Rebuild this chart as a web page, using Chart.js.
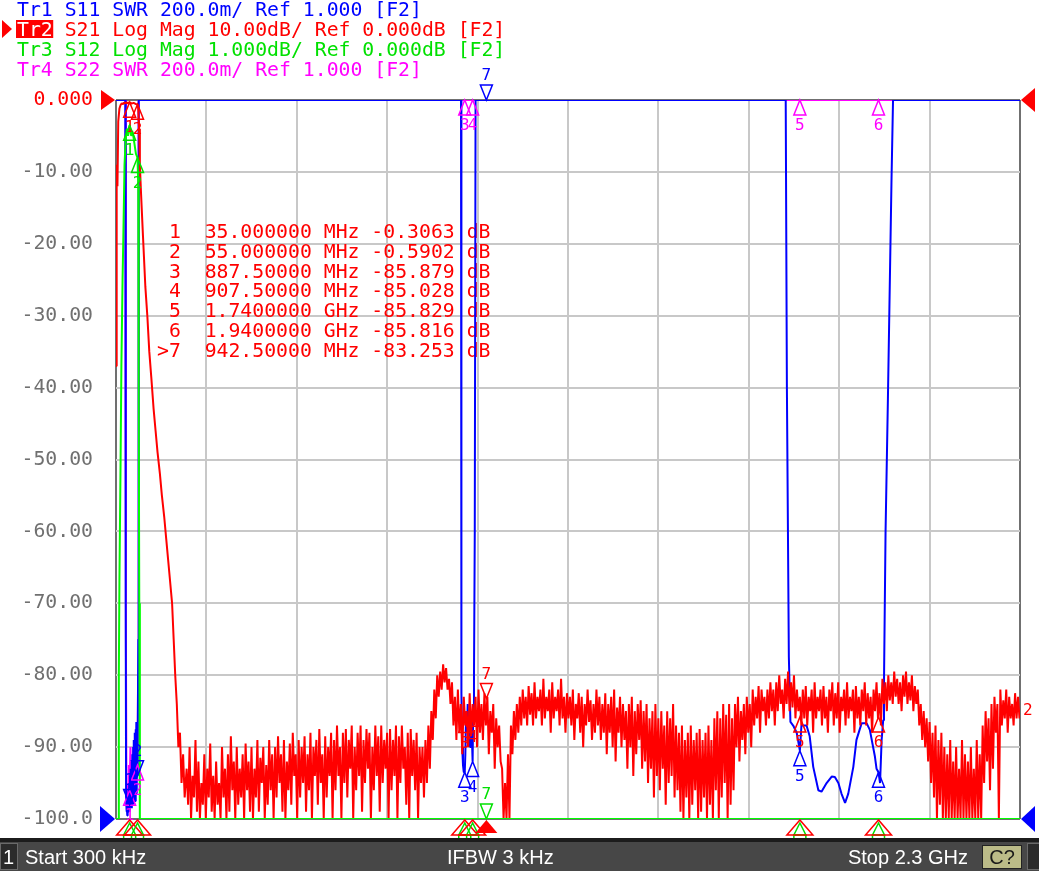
<!DOCTYPE html>
<html>
<head>
<meta charset="utf-8">
<title>S21 / S11 sweep</title>
<script src="https://cdn.jsdelivr.net/npm/chart.js@4.4.1/dist/chart.umd.min.js"></script>
<style>
  html, body { margin: 0; padding: 0; background: #fff; }
  #vna { display: block; }
</style>
</head>
<body>
<canvas id="vna" width="1039" height="871"></canvas>
<script>
var sweepStartMHz = 0.3;
var sweepStopMHz = 2300;
var yTickLabels = ['0.000', '-10.00', '-20.00', '-30.00', '-40.00', '-50.00', '-60.00', '-70.00', '-80.00', '-90.00', '-100.0'];

var headerLines = [
	'Tr1 S11 SWR 200.0m/ Ref 1.000 [F2]',
	'Tr2 S21 Log Mag 10.00dB/ Ref 0.000dB [F2]',
	'Tr3 S12 Log Mag 1.000dB/ Ref 0.000dB [F2]',
	'Tr4 S22 SWR 200.0m/ Ref 1.000 [F2]'
];
var headerColors = ['#0000ff', '#ff0000', '#00e000', '#ff00ff'];

// Tr2 S21 (dB) - passband and skirt, read point by point
var s21LowFreq = [0.3, 2, 4, 6, 9, 12, 15, 18, 21, 24, 27, 30, 35, 40, 45, 50, 55, 57, 59, 61, 64, 69, 75, 80, 85, 90, 96, 101, 106, 112, 117, 123, 128, 133, 138, 143, 147, 151, 155, 159, 163, 167, 171, 175];
var s21LowDb = [-37, -9, -12, -3, -1.2, -0.7, -0.45, -0.6, -0.35, -0.5, -0.3, -0.45, -0.31, -0.5, -0.4, -0.55, -0.59, -1.2, -4, -9, -13, -19, -26, -30, -35, -38.5, -43, -46, -49, -52, -55, -58, -61, -64, -67, -70, -75, -80, -84, -90, -88, -95, -91, -97];

// Tr2 S21 stopband from 180 MHz: for every 7.5 MHz cell the upper and the lower excursion of the trace
var s21CellStartMHz = 180;
var s21CellStepMHz = 7.5;
var s21PeakDb = [
	-93, -90, -94, -89, -92, -95, -91, -93, -89.5, -94,
	-92, -95, -90, -93, -91, -88.5, -92, -90, -93, -91,
	-89.5, -92, -90, -93, -89, -91.5, -90, -92.5, -89, -91,
	-90, -88.5, -91, -89, -92, -89.5, -88, -91, -89, -90,
	-88.5, -91, -88, -90, -89, -87.5, -91, -88.5, -90, -88,
	-89, -87, -90, -88, -87.5, -89, -87, -90, -88, -87,
	-89, -87.5, -88, -90, -87, -88.5, -87, -89, -88, -87.5,
	-89, -87, -88.5, -87, -90, -88, -87.5, -89, -88, -90,
	-90, -89, -87, -85, -82, -80, -79.5, -78.5, -79, -80.5,
	-81, -83, -82, -84, -83, -85, -82.5, -84, -83, -82,
	-84, -82.5, -83, -85, -84, -86, -87, -93, -95, -91,
	-87, -85, -84, -83, -82, -83, -81.5, -82.5, -81, -83,
	-82, -80.5, -83, -82, -81, -83, -82, -80.5, -83, -82.5,
	-83, -82, -84, -82.5, -83, -84, -82, -83.5, -84, -82,
	-83, -84, -82.5, -84, -83, -82, -84.5, -83, -84, -85,
	-84, -83, -85, -84, -83.5, -85, -84, -86, -85, -84,
	-86, -85, -87, -85, -86, -84, -87, -88, -87, -89,
	-88, -87, -89, -88, -87.5, -89, -88, -87, -89, -86,
	-85, -86, -84, -85.5, -84, -86, -84, -83, -85, -84,
	-83, -84, -82, -83, -81.5, -82, -83, -82, -81, -82,
	-81, -80, -82, -80.5, -79.5, -81, -80, -82, -83, -82,
	-81.5, -83, -82, -81, -83, -82, -81.5, -83, -82, -81,
	-82.5, -81, -83, -82, -81, -83, -82, -81.5, -83, -82,
	-81, -82.5, -83, -82, -81, -82.5, -80.5, -81, -80, -81,
	-79.5, -80.5, -81, -80, -79.5, -81, -80, -81.5, -82, -84,
	-85, -86, -86.5, -88, -87, -89, -88, -90, -91, -89,
	-92, -90, -93, -89, -91, -92, -90, -93, -89, -91,
	-87, -85, -86, -84, -83, -84, -82, -83.5, -82, -83,
	-84, -82.5, -83
];
var s21ValleyDb = [
	-98, -100, -97, -99, -100, -98, -100, -97, -99, -100,
	-98, -100, -97, -100, -99, -96, -100, -98, -97, -100,
	-96, -99, -100, -97, -99, -95, -100, -98, -96, -100,
	-97, -95, -99, -100, -96, -98, -94, -100, -97, -95,
	-99, -96, -100, -94, -98, -95, -100, -97, -94, -100,
	-96, -94, -100, -95, -97, -93, -100, -96, -94, -99,
	-95, -93, -100, -96, -94, -99, -95, -93, -100, -96,
	-94, -100, -95, -93, -98, -100, -94, -96, -100, -95,
	-97, -95, -93, -89, -86, -83, -82, -81, -82, -84,
	-87, -89, -88, -91, -87, -90, -88.5, -87, -90, -88,
	-89, -87, -91, -88, -93, -90, -92, -100, -100, -100,
	-91, -89, -88, -87, -86, -87, -85.5, -87, -86, -85,
	-87, -86, -85, -88, -86, -85, -87, -86, -88, -86,
	-87, -89, -86, -88, -90, -87, -86.5, -89, -88, -87,
	-89, -88, -91, -88, -90, -92, -88, -90, -89, -93,
	-90, -94, -91, -89, -93, -92, -95, -93, -97, -94,
	-96, -93, -98, -95, -94, -97, -96, -99, -100, -97,
	-100, -98, -96, -100, -99, -97, -100, -98, -100, -96,
	-100, -97, -95, -100, -98, -96, -90, -92, -89, -91,
	-88, -90, -87, -86, -88, -85, -87, -86, -85, -87,
	-85, -84, -86, -84, -85, -84.5, -86, -85, -87, -86,
	-87, -85, -88, -86, -85, -87, -86, -88, -85, -87,
	-86, -88, -85, -87, -86, -85, -88, -86, -87, -85,
	-87, -86, -88, -85, -86, -87, -84, -85, -83.5, -84,
	-83, -84, -85, -83, -84, -83.5, -85, -84, -87, -89,
	-90, -92, -95, -97, -100, -98, -100, -100, -100, -100,
	-100, -100, -100, -100, -100, -100, -100, -100, -100, -100,
	-95, -92, -96, -93, -88, -100, -87, -86, -88, -86,
	-87, -86, -86
];
var s21StopDb = -85;

// Tr1 S11 (SWR)
var s11Freq = [0.3, 24, 25, 26, 27, 28, 29, 30, 31, 32, 33, 34, 35, 36, 37, 38, 39, 40, 41, 42, 43, 44, 45, 46, 47, 48, 49, 50, 51, 52, 53, 54, 55, 56, 57, 58,
	878, 879, 881, 883, 885, 887.5, 889, 891, 893, 895, 897, 899, 901, 903, 905, 907.5, 909, 911, 913, 915,
	1704, 1707, 1712, 1716, 1723, 1732, 1740, 1744, 1757, 1765, 1774, 1787, 1795, 1808, 1821, 1829, 1838, 1846, 1855, 1863, 1876, 1884, 1897, 1910, 1918, 1931, 1935, 1940, 1944, 1948, 1952, 1954, 1958, 1964, 1973, 1977, 2300];
var s11Swr = [3, 3, 1.6, 1.05, 1.02, 1.04, 1.01, 1.06, 1.02, 1.08, 1.03, 1.1, 1.02, 1.12, 1.04, 1.14, 1.05, 1.16, 1.03, 1.18, 1.06, 1.2, 1.04, 1.22, 1.08, 1.24, 1.05, 1.25, 1.1, 1.27, 1.07, 1.26, 1.12, 1.2, 1.5, 3,
	3, 1.35, 1.2, 1.15, 1.13, 1.13, 1.18, 1.3, 1.24, 1.32, 1.22, 1.29, 1.2, 1.3, 1.25, 1.16, 1.3, 1.4, 1.8, 3,
	3, 2.2, 1.45, 1.27, 1.26, 1.24, 1.19, 1.26, 1.26, 1.23, 1.145, 1.08, 1.076, 1.1, 1.118, 1.117, 1.1, 1.07, 1.045, 1.07, 1.145, 1.22, 1.266, 1.266, 1.248, 1.173, 1.14, 1.13, 1.1, 1.22, 1.275, 1.38, 1.8, 2.17, 2.77, 3, 3];

// Tr3 S12 (dB, 1 dB/div)
var s12Freq = [0.3, 6, 7.5, 9, 12, 14, 17, 19, 22, 25, 28, 31, 35, 39, 43, 47, 51, 55, 57, 58, 59.5, 61, 2300];
var s12Db = [-10, -10, -8, -6.7, -5, -3.7, -2.5, -1.9, -0.9, -0.55, -0.4, -0.5, -0.35, -0.5, -0.45, -0.6, -0.75, -0.8, -1.2, -4, -7, -10, -10];

// Tr4 S22 (SWR)
var s22Freq = [0.3, 24.5, 25.5, 27, 29, 31, 33, 35, 37, 39, 41, 43, 45, 47, 49, 51, 53, 55, 56.5, 58, 2300];
var s22Swr = [3, 3, 1.5, 1.06, 1.1, 1.04, 1.15, 1.08, 1.2, 1.1, 1.16, 1.05, 1.2, 1.12, 1.22, 1.1, 1.18, 1.15, 1.4, 3, 3];

// markers
var markerFreqMHz = [35, 55, 887.5, 907.5, 1740, 1940, 942.5];
var markerFreqText = ['35.000000 MHz', '55.000000 MHz', '887.50000 MHz', '907.50000 MHz', '1.7400000 GHz', '1.9400000 GHz', '942.50000 MHz'];
var markerS21Db = [-0.3063, -0.5902, -85.879, -85.028, -85.829, -85.816, -83.253];
var markerS11Swr = [1.04, 1.12, 1.13, 1.16, 1.19, 1.13, 3];
var markerS12Db = [-0.35, -0.8, -10, -10, -10, -10, -10];
var markerS22Swr = [1.08, 1.15, 3, 3, 3, 3, 3];
var activeMarker = 6;

function pairs(fr, vals) {
	return fr.map(function (f, i) { return { x: f, y: vals[i] }; });
}

// passband points, then each stopband cell as peak followed by valley
var s21Points = pairs(s21LowFreq, s21LowDb);
for (var i = 0; i < s21PeakDb.length; i++) {
	var f0 = s21CellStartMHz + i * s21CellStepMHz;
	s21Points.push({ x: f0, y: s21PeakDb[i] });
	s21Points.push({ x: f0 + s21CellStepMHz / 2, y: s21ValleyDb[i] });
}
s21Points.push({ x: sweepStopMHz, y: s21StopDb });

var MONO = '"DejaVu Sans Mono", monospace';

// which marker symbols are shown per trace, and which side of the trace (1 = below, -1 = above)
var markerSets = [
	{ vals: markerS22Swr, axis: 'ySwr', color: '#ff00ff', show: [1, 1, 1, 1, 1, 1, 0], side: [1, 1, 1, 1, 1, 1, -1] },
	{ vals: markerS11Swr, axis: 'ySwr', color: '#0000ff', show: [1, 1, 1, 1, 1, 1, 1], side: [-1, -1, 1, 1, 1, 1, -1] },
	{ vals: markerS21Db, axis: 'y', color: '#ff0000', show: [1, 1, 1, 1, 1, 1, 1], side: [1, 1, 1, 1, 1, 1, -1] },
	{ vals: markerS12Db, axis: 'yS12', color: '#00e000', show: [1, 1, 0, 0, 0, 0, 1], side: [1, 1, 1, 1, 1, 1, -1] }
];

function markerSymbol(ctx, x, y, side, color, num) {
	var h = 15, w = 6;
	ctx.strokeStyle = color;
	ctx.lineWidth = 1.5;
	ctx.beginPath();
	ctx.moveTo(x, y);
	ctx.lineTo(x - w, y + side * h);
	ctx.lineTo(x + w, y + side * h);
	ctx.closePath();
	ctx.stroke();
	ctx.fillStyle = color;
	ctx.font = '16px ' + MONO;
	ctx.textAlign = 'center';
	if (side > 0) {
		ctx.textBaseline = 'top';
		ctx.fillText(String(num), x, y + h + 3);
	} else {
		ctx.textBaseline = 'bottom';
		ctx.fillText(String(num), x, y - h - 1);
	}
}

function tri(ctx, pts) {
	ctx.beginPath();
	ctx.moveTo(pts[0], pts[1]);
	for (var k = 2; k < pts.length; k += 2) ctx.lineTo(pts[k], pts[k + 1]);
	ctx.closePath();
}

var vnaOverlay = {
	id: 'vnaOverlay',
	beforeDatasetsDraw: function (chart) {
		var ctx = chart.ctx;
		ctx.save();
		ctx.font = '19.8px ' + MONO;
		ctx.fillStyle = '#ff0000';
		ctx.textAlign = 'left';
		ctx.textBaseline = 'alphabetic';
		for (var m = 0; m < markerFreqMHz.length; m++) {
			var v = markerS21Db[m];
			var vt = Math.abs(v) < 10 ? v.toFixed(4) : v.toFixed(3);
			var row = (m === activeMarker ? '>' : ' ') + (m + 1) + '  ' + markerFreqText[m] + ' ' + vt + ' dB';
			ctx.fillText(row, 157, 238 + m * 19.8);
		}
		ctx.restore();
	},
	afterDatasetsDraw: function (chart) {
		var ctx = chart.ctx;
		var xs = chart.scales.x;
		ctx.save();
		markerSets.forEach(function (set) {
			var ys = chart.scales[set.axis];
			for (var m = 0; m < markerFreqMHz.length; m++) {
				if (!set.show[m]) continue;
				markerSymbol(ctx, xs.getPixelForValue(markerFreqMHz[m]), ys.getPixelForValue(set.vals[m]), set.side[m], set.color, m + 1);
			}
		});
		// trace number at the stop end of Tr2
		ctx.fillStyle = '#ff0000';
		ctx.font = '16px ' + MONO;
		ctx.textAlign = 'left';
		ctx.textBaseline = 'middle';
		ctx.fillText('2', chart.chartArea.right + 3, chart.scales.y.getPixelForValue(s21StopDb));
		ctx.restore();
	},
	afterDraw: function (chart) {
		var ctx = chart.ctx;
		var area = chart.chartArea;
		var xs = chart.scales.x;
		ctx.save();

		// header lines
		ctx.font = '19.8px ' + MONO;
		ctx.textAlign = 'left';
		ctx.textBaseline = 'alphabetic';
		for (var h = 0; h < headerLines.length; h++) {
			var by = 16 + h * 20;
			if (h === 1) {
				var tw = ctx.measureText('Tr2').width;
				ctx.fillStyle = '#ff0000';
				ctx.fillRect(16, 20, tw + 1.5, 18);
				tri(ctx, [2, 20, 12, 29, 2, 38]);
				ctx.fill();
				ctx.fillStyle = '#ffffff';
				ctx.fillText('Tr2', 17, by);
				ctx.fillStyle = headerColors[h];
				ctx.fillText(headerLines[h].slice(3), 17 + tw, by);
			} else {
				ctx.fillStyle = headerColors[h];
				ctx.fillText(headerLines[h], 17, by);
			}
		}

		// reference level arrows
		var yRef = chart.scales.y.getPixelForValue(0);
		var ySwrRef = chart.scales.ySwr.getPixelForValue(1);
		ctx.fillStyle = '#ff0000';
		tri(ctx, [101, yRef - 10, 115, yRef, 101, yRef + 10]); ctx.fill();
		tri(ctx, [1035, yRef - 12, 1021, yRef, 1035, yRef + 12]); ctx.fill();
		ctx.fillStyle = '#0000ff';
		tri(ctx, [100, ySwrRef - 13, 115, ySwrRef, 100, ySwrRef + 13]); ctx.fill();
		tri(ctx, [1035, ySwrRef - 13, 1021, ySwrRef, 1035, ySwrRef + 13]); ctx.fill();

		// stimulus markers under the grid
		var base = area.bottom + 16;
		for (var m = 0; m < markerFreqMHz.length; m++) {
			var mx = xs.getPixelForValue(markerFreqMHz[m]);
			if (m === activeMarker) {
				ctx.fillStyle = '#ff0000';
				tri(ctx, [mx, area.bottom + 1, mx - 11, base - 2, mx + 11, base - 2]);
				ctx.fill();
				continue;
			}
			ctx.lineWidth = 1.5;
			ctx.strokeStyle = '#00e000';
			tri(ctx, [mx, area.bottom + 4, mx - 6, base, mx + 6, base]);
			ctx.stroke();
			ctx.strokeRect(mx - 6, base, 12, 4);
			ctx.strokeStyle = '#ff0000';
			tri(ctx, [mx, area.bottom + 1, mx - 13, base, mx + 13, base]);
			ctx.stroke();
		}

		// status bar
		ctx.fillStyle = '#1c1c1c';
		ctx.fillRect(0, 838, 1039, 4);
		ctx.fillStyle = '#474747';
		ctx.fillRect(0, 842, 1039, 29);
		ctx.fillStyle = '#2b2b2b';
		ctx.fillRect(0, 843, 18, 27);
		ctx.fillRect(1027, 843, 12, 27);
		ctx.strokeStyle = '#6a6a6a';
		ctx.lineWidth = 1;
		ctx.strokeRect(0.5, 843.5, 17, 26);
		ctx.strokeRect(1027.5, 843.5, 12, 26);
		ctx.fillStyle = '#bbbb88';
		ctx.fillRect(982, 845, 40, 24);
		ctx.strokeStyle = '#222222';
		ctx.strokeRect(982.5, 845.5, 39, 23);

		ctx.font = '20px "Liberation Sans", Arial, sans-serif';
		ctx.textBaseline = 'alphabetic';
		ctx.fillStyle = '#ffffff';
		ctx.textAlign = 'left';
		ctx.fillText('1', 3, 864);
		ctx.fillText('Start 300 kHz', 25, 864);
		ctx.fillText('IFBW 3 kHz', 447, 864);
		ctx.textAlign = 'right';
		ctx.fillText('Stop 2.3 GHz', 968, 864);
		ctx.fillStyle = '#1a1a1a';
		ctx.textAlign = 'center';
		ctx.fillText('C?', 1002, 864);

		ctx.restore();
	}
};

new Chart(document.getElementById('vna'), {
	type: 'line',
	data: {
		datasets: [{
			label: 'Tr3 S12',
			data: pairs(s12Freq, s12Db),
			yAxisID: 'yS12',
			borderColor: '#00ff00'
		}, {
			label: 'Tr2 S21',
			data: s21Points,
			yAxisID: 'y',
			borderColor: '#ff0000',
			borderWidth: 2
		}, {
			label: 'Tr1 S11',
			data: pairs(s11Freq, s11Swr),
			yAxisID: 'ySwr',
			borderColor: '#0000ff'
		}, {
			label: 'Tr4 S22',
			data: pairs(s22Freq, s22Swr),
			yAxisID: 'ySwr',
			borderColor: '#ff00ff'
		}]
	},
	options: {
		responsive: false,
		animation: false,
		devicePixelRatio: 1,
		events: [],
		layout: { padding: { top: 100, bottom: 52, left: 0, right: 19 } },
		elements: {
			point: { radius: 0 },
			line: { borderWidth: 2, tension: 0, fill: false, borderJoinStyle: 'bevel' }
		},
		plugins: {
			legend: { display: false },
			tooltip: { enabled: false }
		},
		scales: {
			x: {
				type: 'linear',
				min: sweepStartMHz,
				max: sweepStopMHz,
				afterBuildTicks: function (scale) {
					var t = [];
					for (var k = 0; k <= 10; k++) t.push({ value: sweepStartMHz + k * (sweepStopMHz - sweepStartMHz) / 10 });
					scale.ticks = t;
				},
				afterFit: function (scale) { scale.height = 0; },
				ticks: { display: false },
				border: { display: false },
				grid: {
					drawTicks: false,
					lineWidth: 2,
					color: function (c) { return (c.index === 0 || c.index === 10) ? '#707070' : '#c8c8c8'; }
				}
			},
			y: {
				position: 'left',
				min: -100,
				max: 0,
				afterFit: function (scale) { scale.width = 116; },
				border: { display: false },
				grid: {
					drawTicks: false,
					lineWidth: 2,
					color: function (c) { return (c.tick && (c.tick.value === 0 || c.tick.value === -100)) ? '#707070' : '#c8c8c8'; }
				},
				ticks: {
					stepSize: 10,
					padding: 23,
					font: { family: 'DejaVu Sans Mono', size: 19.8 },
					color: function (c) { return c.tick.value === 0 ? '#ff0000' : '#707070'; },
					callback: function (value) { return yTickLabels[Math.round(-value / 10)]; }
				}
			},
			yS12: { display: false, min: -10, max: 0 },
			ySwr: { display: false, min: 1, max: 3 }
		}
	},
	plugins: [vnaOverlay]
});
</script>
</body>
</html>
